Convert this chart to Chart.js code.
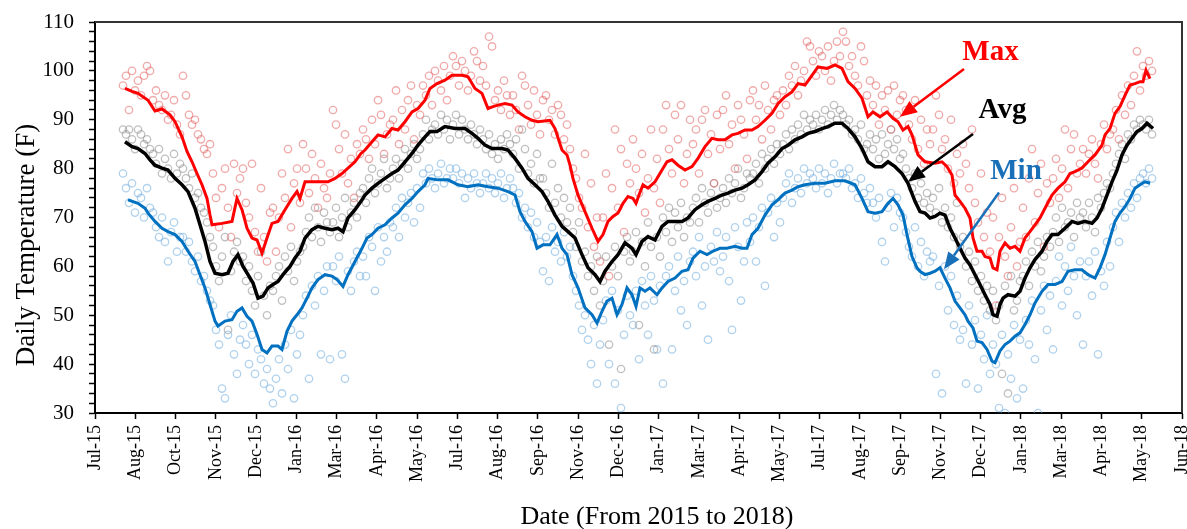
<!DOCTYPE html>
<html>
<head>
<meta charset="utf-8">
<script src="https://cdn.jsdelivr.net/npm/chart.js@4.4.1/dist/chart.umd.min.js"></script>
<style>
  body { margin: 0; background: #fff; }
  #wrap { width: 1187px; height: 529px; }
</style>
</head>
<body>
<div id="wrap"><canvas id="temp-chart" width="1187" height="529"></canvas></div>
<script>
// x values are days counted from the Jul-15 tick
const tickLabels = ['Jul-15', 'Aug-15', 'Oct-15', 'Nov-15', 'Dec-15', 'Jan-16', 'Mar-16', 'Apr-16', 'May-16',
    'Jul-16', 'Aug-16', 'Sep-16', 'Nov-16', 'Dec-16', 'Jan-17', 'Mar-17', 'Apr-17', 'May-17',
    'Jul-17', 'Aug-17', 'Sep-17', 'Nov-17', 'Dec-17', 'Jan-18', 'Mar-18', 'Apr-18', 'May-18', 'Jun-18'];
const axisDays = 1087;

// daily readings (one every 3 days, starting at day 28)
const firstDay = 28;
const dayStep = 3;

const maxDaily = [
    97, 99, 92, 100, 96, 98, 95, 99, 101, 100,
    94, 96, 93, 92, 95, 90, 91, 94, 89, 87,
    99, 95, 91, 89, 90, 87, 86, 84, 83, 85,
    79, 74, 68, 76, 80, 72, 66, 81, 75, 78,
    80, 73, 70, 81, 67, 63, 76, 66, 61, 71,
    72, 63, 70, 79, 74, 84, 68, 77, 80, 73,
    85, 80, 75, 83, 78, 72, 81, 76, 74, 79,
    92, 89, 84, 79, 87, 77, 82, 74, 85, 83,
    88, 86, 82, 90, 85, 94, 91, 83, 87, 89,
    90, 96, 85, 92, 88, 94, 97, 86, 93, 91,
    97, 95, 99, 93, 100, 98, 96, 101, 94, 99,
    103, 101, 97, 102, 100, 96, 99, 104, 102, 98,
    101, 97, 107, 105, 94, 96, 92, 98, 95, 91,
    95, 92, 88, 99, 97, 93, 89, 96, 91, 87,
    94, 95, 90, 92, 87, 93, 91, 86, 89, 84,
    80, 78, 74, 72, 83, 68, 77, 64, 70, 61,
    70, 79, 58, 76, 88, 72, 84, 67, 81, 77,
    86, 80, 75, 83, 71, 78, 88, 76, 82, 73,
    88, 93, 84, 79, 91, 86, 93, 77, 83, 90,
    85, 88, 79, 90, 92, 83, 87, 77, 91, 84,
    92, 95, 85, 89, 80, 93, 90, 87, 82, 94,
    96, 90, 93, 86, 97, 92, 88, 94, 95, 91,
    96, 93, 99, 97, 101, 95, 98, 100, 106, 105,
    102, 99, 104, 103, 100, 105, 98, 102, 106, 103,
    108, 106, 101, 103, 99, 97, 105, 102, 95, 98,
    93, 97, 89, 95, 92, 96, 88, 97, 91, 94,
    95, 92, 89, 86, 94, 84, 90, 81, 88, 85,
    88, 95, 91, 84, 86, 80, 90, 77, 83, 79,
    85, 81, 76, 88, 73, 69, 79, 66, 71, 63,
    70, 52, 66, 74, 62, 58, 68, 76, 60, 65,
    72, 66, 78, 84, 69, 75, 81, 64, 77, 73,
    78, 82, 74, 80, 88, 76, 84, 87, 79, 81,
    84, 79, 83, 86, 81, 78, 85, 89, 84, 87,
    88, 92, 86, 95, 91, 97, 93, 99, 104, 96,
    101, 99, 102, 100
];

const avgDaily = [
    88, 87, 88, 86, 84, 88, 87, 85, 86, 84,
    83, 81, 84, 79, 82, 80, 78, 83, 79, 81,
    80, 78, 76, 79, 74, 75, 72, 71, 69, 66,
    64, 60, 57, 62, 66, 47, 59, 63, 65, 61,
    62, 57, 60, 55, 52, 58, 63, 54, 50, 56,
    55, 58, 60, 53, 62, 59, 64, 57, 61, 63,
    64, 67, 70, 66, 72, 68, 65, 71, 69, 67,
    69, 72, 66, 70, 74, 68, 71, 73, 70, 75,
    76, 73, 78, 80, 75, 77, 79, 82, 76, 78,
    80, 82, 78, 81, 84, 80, 83, 85, 82, 84,
    87, 90, 86, 88, 89, 87, 91, 88, 90, 86,
    89, 91, 87, 90, 88, 86, 89, 87, 85, 88,
    86, 84, 87, 83, 85, 82, 86, 84, 87, 85,
    83, 86, 80, 88, 84, 79, 81, 77, 83, 78,
    78, 75, 72, 81, 73, 76, 70, 74, 69, 72,
    67, 64, 69, 61, 63, 58, 60, 55, 62, 52,
    57, 62, 44, 60, 64, 58, 39, 63, 66, 61,
    63, 67, 48, 65, 60, 69, 64, 43, 66, 62,
    70, 67, 72, 65, 71, 68, 73, 66, 70, 69,
    72, 74, 69, 76, 73, 71, 75, 77, 72, 74,
    76, 73, 78, 75, 77, 80, 74, 76, 79, 78,
    79, 81, 77, 83, 80, 82, 84, 81, 85, 83,
    85, 87, 84, 88, 86, 89, 87, 91, 88, 90,
    89, 91, 88, 90, 92, 89, 91, 93, 90, 92,
    91, 89, 90, 87, 88, 86, 89, 84, 85, 87,
    84, 86, 82, 87, 83, 85, 88, 84, 86, 82,
    83, 80, 78, 76, 79, 74, 77, 73, 75, 72,
    74, 71, 76, 69, 72, 68, 70, 66, 73, 64,
    66, 60, 63, 57, 61, 55, 58, 53, 56, 51,
    55, 49, 52, 38, 56, 34, 58, 51, 53, 57,
    58, 61, 56, 63, 60, 65, 59, 62, 66, 64,
    67, 70, 65, 72, 68, 69, 71, 66, 73, 70,
    71, 68, 73, 70, 67, 74, 72, 75, 77, 76,
    79, 81, 83, 85, 82, 87, 86, 89, 88, 90,
    89, 88, 90, 87
];

const minDaily = [
    79, 76, 73, 77, 71, 75, 74, 70, 76, 72,
    71, 68, 66, 70, 65, 61, 67, 69, 63, 66,
    66, 63, 65, 61, 59, 62, 57, 58, 55, 53,
    52, 47, 44, 35, 33, 46, 50, 42, 38, 45,
    48, 44, 40, 46, 38, 43, 41, 36, 39, 35,
    32, 37, 41, 34, 44, 39, 47, 33, 42, 46,
    50, 54, 37, 56, 52, 58, 42, 55, 60, 41,
    60, 57, 62, 42, 37, 59, 55, 61, 63, 58,
    62, 58, 66, 64, 55, 68, 61, 66, 63, 69,
    68, 72, 66, 74, 70, 73, 75, 69, 76, 72,
    79, 77, 80, 78, 76, 79, 81, 77, 78, 80,
    78, 80, 77, 79, 74, 78, 76, 79, 77, 75,
    77, 79, 76, 78, 75, 77, 79, 74, 76, 78,
    76, 73, 75, 70, 72, 68, 71, 66, 69, 65,
    59, 66, 57, 68, 63, 65, 61, 67, 62, 64,
    58, 55, 52, 47, 50, 45, 40, 48, 36, 44,
    49, 53, 40, 55, 36, 51, 31, 46, 54, 50,
    48, 55, 41, 57, 52, 46, 58, 53, 43, 56,
    36, 58, 60, 43, 55, 62, 51, 57, 48, 61,
    63, 58, 66, 52, 60, 45, 64, 61, 67, 59,
    62, 66, 57, 47, 68, 64, 53, 61, 69, 65,
    70, 61, 68, 72, 56, 71, 74, 66, 73, 69,
    74, 77, 79, 73, 76, 78, 75, 80, 77, 79,
    78, 76, 80, 77, 79, 75, 78, 81, 77, 79,
    79, 78, 80, 76, 77, 74, 78, 75, 73, 76,
    73, 70, 74, 65, 61, 72, 75, 68, 74, 71,
    70, 67, 64, 62, 68, 60, 65, 58, 63, 61,
    62, 38, 56, 34, 60, 51, 58, 48, 54, 45,
    47, 36, 52, 44, 49, 35, 46, 41, 50, 38,
    44, 40, 31, 46, 30, 42, 37, 48, 33, 45,
    35, 49, 44, 53, 41, 30, 51, 56, 47, 54,
    43, 57, 62, 52, 60, 55, 64, 58, 50, 61,
    44, 58, 61, 54, 63, 42, 59, 56, 65, 60,
    68, 71, 65, 73, 70, 75, 72, 77, 74, 78,
    79, 77, 80, 78
];

// running trend lines [day, value]
const maxTrend = [
    [30, 96.4], [37, 95.8], [43, 95.4], [53, 94.0], [60, 91.8], [67, 92.2], [75, 91.0], [80, 89.6],
    [87, 86.5], [92, 83.5], [97, 81.4], [102, 79.0], [107, 76.7], [112, 73.9], [115, 70.5], [117, 68.5],
    [127, 68.8], [137, 69.2], [142, 73.9], [147, 71.6], [152, 67.8], [157, 65.8], [162, 65.4], [167, 62.7],
    [172, 65.8], [177, 68.8], [183, 69.2], [190, 71.6], [197, 73.9], [202, 75.3], [205, 73.9], [210, 77.3],
    [220, 77.3], [233, 77.3], [240, 78.0], [247, 79.0], [253, 80.1], [260, 81.4], [266, 83.1], [270, 83.8],
    [277, 85.5], [283, 86.9], [290, 86.5], [297, 88.2], [303, 87.9], [310, 89.6], [317, 91.6], [323, 92.3],
    [330, 94.0], [335, 96.4], [342, 97.4], [350, 98.1], [357, 99.1], [367, 99.1], [373, 98.8], [380, 96.4],
    [387, 95.4], [393, 92.3], [398, 92.7], [403, 93.0], [410, 93.3], [417, 93.0], [423, 91.6], [430, 90.6],
    [437, 89.9], [443, 89.6], [455, 89.9], [460, 88.2], [467, 83.8], [472, 82.8], [475, 80.7], [478, 78.0],
    [483, 74.6], [490, 71.2], [497, 67.8], [503, 65.1], [508, 66.5], [513, 69.2], [518, 70.2], [523, 70.9],
    [528, 72.9], [533, 74.3], [538, 73.9], [541, 72.9], [544, 74.6], [548, 76.7], [553, 76.0], [560, 77.3],
    [567, 79.7], [572, 81.4], [577, 81.8], [583, 80.7], [590, 79.7], [597, 80.4], [603, 82.1], [610, 84.5],
    [617, 86.2], [623, 85.9], [630, 85.9], [637, 86.9], [643, 87.2], [650, 87.9], [657, 87.9], [663, 88.6],
    [670, 89.9], [677, 91.3], [683, 93.3], [690, 94.7], [697, 95.7], [703, 97.4], [710, 97.1], [717, 99.1],
    [723, 100.8], [732, 100.5], [740, 101.2], [747, 100.5], [753, 97.8], [760, 96.4], [767, 94.4], [773, 90.6],
    [778, 91.6], [785, 90.6], [792, 91.6], [798, 90.3], [803, 89.6], [808, 87.9], [813, 88.6], [817, 86.9],
    [823, 82.8], [830, 81.4], [840, 81.1], [847, 81.4], [852, 80.4], [857, 78.7], [860, 74.6], [865, 73.3],
    [870, 71.9], [875, 69.9], [878, 65.8], [882, 63.1], [887, 63.1], [890, 62.0], [895, 61.7], [898, 59.7],
    [902, 59.3], [905, 63.1], [910, 64.8], [915, 63.7], [920, 64.1], [925, 63.1], [930, 65.8], [935, 67.1],
    [940, 68.5], [945, 69.9], [950, 71.9], [957, 74.6], [963, 76.0], [970, 77.3], [975, 79.0], [980, 79.4],
    [987, 80.1], [993, 81.4], [1000, 82.8], [1007, 84.8], [1010, 86.9], [1015, 88.2], [1020, 91.3], [1025, 92.7],
    [1030, 95.0], [1035, 97.1], [1040, 97.4], [1045, 97.8], [1048, 97.8], [1051, 100.1], [1055, 98.4]
];

const avgTrend = [
    [30, 85.5], [37, 84.5], [43, 84.1], [50, 83.1], [55, 81.8], [60, 80.7], [67, 80.1], [73, 79.7],
    [80, 78.0], [87, 76.7], [93, 75.3], [100, 71.9], [105, 68.5], [110, 65.1], [115, 61.0], [120, 58.6],
    [127, 58.3], [133, 58.6], [138, 61.0], [143, 62.4], [148, 60.0], [153, 58.3], [158, 56.6], [163, 53.5],
    [168, 53.9], [173, 55.6], [178, 56.3], [183, 56.9], [188, 58.3], [195, 60.0], [200, 61.7], [205, 63.1],
    [210, 65.8], [217, 67.5], [223, 68.2], [230, 67.8], [237, 67.5], [243, 67.8], [248, 67.1], [253, 69.9],
    [260, 71.6], [266, 73.3], [270, 74.6], [277, 76.0], [283, 77.0], [290, 78.0], [297, 79.0], [303, 79.7],
    [310, 81.4], [317, 83.1], [323, 84.8], [330, 86.5], [335, 87.6], [342, 87.6], [350, 88.6], [360, 88.2],
    [370, 88.2], [377, 87.2], [383, 86.2], [390, 84.8], [397, 84.1], [407, 84.1], [413, 83.8], [420, 82.1],
    [427, 80.1], [433, 78.0], [440, 76.7], [447, 75.3], [453, 73.3], [460, 70.5], [467, 68.2], [473, 67.1],
    [480, 65.8], [487, 62.4], [493, 59.7], [500, 58.3], [505, 56.9], [510, 59.0], [517, 61.0], [523, 62.4],
    [530, 64.8], [537, 63.7], [541, 62.4], [547, 65.1], [553, 66.1], [560, 65.4], [567, 68.2], [573, 69.2],
    [580, 69.2], [587, 69.2], [593, 69.9], [600, 71.6], [607, 72.6], [613, 73.3], [620, 73.9], [627, 74.6],
    [633, 75.0], [640, 75.6], [647, 76.0], [653, 76.7], [660, 77.7], [667, 79.4], [673, 81.1], [680, 82.4],
    [687, 84.1], [693, 84.8], [700, 85.9], [707, 86.5], [713, 87.2], [720, 87.6], [727, 88.2], [733, 88.6],
    [740, 89.3], [747, 89.3], [753, 88.2], [760, 86.5], [767, 84.1], [773, 81.4], [780, 80.4], [787, 80.4],
    [793, 81.4], [800, 80.4], [807, 79.0], [813, 77.0], [820, 73.3], [825, 71.2], [830, 70.9], [835, 69.9],
    [840, 70.2], [845, 70.9], [850, 70.5], [855, 67.8], [860, 65.8], [865, 63.7], [870, 61.7], [875, 60.3],
    [880, 58.3], [885, 56.3], [890, 54.2], [895, 52.2], [898, 50.1], [902, 49.8], [905, 52.2], [908, 53.5],
    [913, 54.2], [920, 53.9], [925, 54.9], [930, 57.6], [935, 59.7], [940, 61.4], [947, 63.1], [952, 65.1],
    [957, 66.5], [963, 66.5], [970, 67.8], [977, 69.2], [983, 68.8], [990, 69.2], [997, 68.8], [1002, 69.9],
    [1007, 71.9], [1012, 74.6], [1017, 77.3], [1022, 79.7], [1027, 82.8], [1032, 84.8], [1037, 86.2], [1042, 87.6],
    [1047, 88.2], [1052, 89.3], [1058, 88.2]
];

const minTrend = [
    [33, 73.6], [43, 72.9], [50, 71.9], [53, 70.9], [60, 69.2], [67, 67.8], [73, 67.1], [80, 66.5],
    [87, 65.1], [93, 63.1], [100, 61.0], [105, 58.3], [110, 55.6], [115, 52.2], [120, 48.8], [123, 47.8],
    [130, 48.8], [137, 49.1], [142, 50.8], [147, 51.5], [152, 49.8], [157, 48.8], [162, 46.1], [167, 43.0],
    [172, 42.3], [177, 43.7], [183, 43.7], [187, 43.0], [192, 46.7], [197, 48.8], [202, 50.1], [207, 51.5],
    [212, 53.5], [217, 55.6], [223, 57.3], [230, 58.3], [237, 58.0], [242, 57.3], [248, 55.9], [253, 58.3],
    [260, 61.0], [267, 63.7], [272, 65.8], [277, 66.5], [283, 67.8], [290, 68.5], [297, 69.9], [303, 70.9],
    [310, 72.6], [317, 73.9], [323, 75.3], [330, 76.7], [333, 78.0], [343, 77.7], [353, 77.7], [363, 76.7],
    [373, 76.3], [383, 76.7], [393, 76.3], [403, 76.0], [413, 75.3], [420, 74.6], [425, 71.2], [430, 69.2],
    [437, 67.1], [442, 63.7], [448, 64.4], [455, 64.4], [462, 66.5], [467, 63.7], [472, 62.4], [477, 58.3],
    [483, 55.6], [490, 51.5], [497, 50.1], [502, 48.4], [507, 50.8], [512, 52.9], [517, 53.5], [522, 50.1],
    [527, 52.2], [532, 55.6], [537, 54.2], [541, 51.8], [545, 55.6], [550, 54.9], [555, 55.6], [562, 54.2],
    [567, 55.6], [573, 56.9], [580, 57.6], [587, 59.0], [593, 59.3], [598, 61.7], [605, 63.1], [612, 62.4],
    [618, 63.1], [625, 63.7], [632, 63.7], [640, 64.1], [647, 63.7], [652, 63.7], [657, 66.5], [663, 67.8],
    [670, 70.5], [677, 72.6], [683, 73.6], [690, 75.0], [697, 75.6], [703, 76.3], [710, 76.7], [720, 77.0],
    [730, 77.0], [740, 77.5], [750, 77.5], [760, 76.7], [767, 73.9], [773, 71.2], [780, 70.9], [787, 71.2],
    [793, 72.9], [798, 73.9], [803, 72.6], [808, 70.5], [812, 66.5], [817, 62.0], [822, 59.7], [825, 59.0],
    [830, 58.3], [835, 58.6], [840, 59.0], [845, 59.7], [850, 57.6], [855, 55.6], [860, 52.9], [865, 51.5],
    [870, 50.1], [873, 48.8], [878, 47.4], [882, 44.7], [887, 44.4], [892, 43.0], [897, 40.6], [900, 40.3],
    [905, 42.7], [910, 44.0], [915, 44.7], [920, 45.7], [925, 46.4], [930, 48.1], [935, 50.1], [940, 52.5],
    [947, 54.9], [953, 56.3], [960, 56.3], [967, 56.9], [973, 59.0], [980, 59.3], [987, 59.3], [993, 58.3],
    [1000, 57.6], [1005, 59.7], [1010, 62.4], [1015, 65.8], [1020, 69.2], [1025, 70.9], [1030, 72.2], [1035, 73.9],
    [1040, 76.0], [1045, 76.7], [1050, 77.3], [1055, 77.0]
];

// callouts: label anchor and arrow, in data units
const callouts = [
    { text: 'Max', color: '#ff0000', label: [895.5, 102.2], from: [869, 100.4], to: [805, 90.6] },
    { text: 'Avg', color: '#000000', label: [907.5, 90.4], from: [878, 87.1], to: [813, 77.3] },
    { text: 'Min', color: '#1a70b8', label: [921, 77.8], from: [904, 75.1], to: [849, 59.4] }
];

const serif = '"Liberation Serif", "Times New Roman", serif';

const toPoints = (vals) => vals.map((v, i) => ({ x: firstDay + i * dayStep, y: v }));
const toLine = (pairs) => pairs.map(([x, y]) => ({ x, y }));

// frame, axis titles and callouts
const extrasPlugin = {
    id: 'extras',
    afterDraw(chart) {
        const { ctx, chartArea: area, scales: { x, y } } = chart;
        ctx.save();

        ctx.strokeStyle = '#333';
        ctx.lineWidth = 2;
        ctx.beginPath();
        ctx.moveTo(area.left, area.top);
        ctx.lineTo(area.right, area.top);
        ctx.lineTo(area.right, area.bottom);
        ctx.stroke();

        ctx.fillStyle = '#000';
        ctx.font = '26px ' + serif;
        ctx.textAlign = 'center';
        ctx.textBaseline = 'alphabetic';
        ctx.fillText('Date (From 2015 to 2018)', 657, 524);

        ctx.save();
        ctx.translate(34, 245);
        ctx.rotate(-Math.PI / 2);
        ctx.font = '27px ' + serif;
        ctx.fillText('Daily Temperature (F)', 0, 0);
        ctx.restore();

        callouts.forEach(c => {
            const x1 = x.getPixelForValue(c.from[0]), y1 = y.getPixelForValue(c.from[1]);
            const x2 = x.getPixelForValue(c.to[0]), y2 = y.getPixelForValue(c.to[1]);
            const ang = Math.atan2(y2 - y1, x2 - x1);
            const head = 17, half = 7;
            const bx = x2 - head * Math.cos(ang), by = y2 - head * Math.sin(ang);
            ctx.strokeStyle = c.color;
            ctx.fillStyle = c.color;
            ctx.lineWidth = 2.5;
            ctx.beginPath();
            ctx.moveTo(x1, y1);
            ctx.lineTo(bx, by);
            ctx.stroke();
            ctx.beginPath();
            ctx.moveTo(x2, y2);
            ctx.lineTo(bx + half * Math.sin(ang), by - half * Math.cos(ang));
            ctx.lineTo(bx - half * Math.sin(ang), by + half * Math.cos(ang));
            ctx.closePath();
            ctx.fill();

            ctx.font = 'bold 29px ' + serif;
            ctx.textAlign = 'center';
            ctx.textBaseline = 'alphabetic';
            ctx.fillText(c.text, x.getPixelForValue(c.label[0]), y.getPixelForValue(c.label[1]));
        });

        ctx.restore();
    }
};

const dotStyle = (color) => ({
    type: 'scatter',
    borderColor: color,
    backgroundColor: 'rgba(255,255,255,0)',
    pointRadius: 3.7,
    pointBorderWidth: 1.3,
    pointHoverRadius: 3.7,
    order: 2
});

const lineStyle = (color, width) => ({
    type: 'line',
    borderColor: color,
    borderWidth: width,
    pointRadius: 0,
    tension: 0,
    fill: false,
    order: 1
});

const ctx = document.getElementById('temp-chart').getContext('2d');
new Chart(ctx, {
    type: 'scatter',
    data: {
        datasets: [
            { ...lineStyle('#ff0000', 3), label: 'Max trend', data: toLine(maxTrend) },
            { ...lineStyle('#000000', 3.5), label: 'Avg trend', data: toLine(avgTrend) },
            { ...lineStyle('#0070c0', 3), label: 'Min trend', data: toLine(minTrend) },
            { ...dotStyle('rgba(225, 85, 85, 0.5)'), label: 'Max', data: toPoints(maxDaily) },
            { ...dotStyle('rgba(140, 140, 140, 0.55)'), label: 'Avg', data: toPoints(avgDaily) },
            { ...dotStyle('rgba(100, 165, 220, 0.5)'), label: 'Min', data: toPoints(minDaily) }
        ]
    },
    options: {
        responsive: false,
        animation: false,
        devicePixelRatio: 1,
        layout: { padding: { top: 22, right: 5, left: 0, bottom: 0 } },
        plugins: {
            legend: { display: false },
            tooltip: { enabled: false }
        },
        scales: {
            x: {
                type: 'linear',
                min: 0,
                max: axisDays,
                afterBuildTicks: (scale) => {
                    scale.ticks = tickLabels.map((_, i) => ({ value: i * axisDays / (tickLabels.length - 1) }));
                },
                afterFit: (scale) => {
                    scale.height = 116;
                    scale.paddingLeft = 0;
                    scale.paddingRight = 0;
                },
                ticks: {
                    autoSkip: false,
                    minRotation: 90,
                    maxRotation: 90,
                    padding: 6,
                    color: '#000',
                    font: { family: serif, size: 18 },
                    callback: (value, index) => tickLabels[index]
                },
                grid: { drawOnChartArea: false, drawTicks: true, tickLength: 6, tickColor: '#000', tickWidth: 1.5 },
                border: { display: true, color: '#000', width: 2 }
            },
            y: {
                min: 30,
                max: 110,
                afterFit: (scale) => {
                    scale.width = 95;
                    scale.paddingTop = 0;
                    scale.paddingBottom = 0;
                },
                ticks: {
                    stepSize: 2,
                    autoSkip: false,
                    padding: 15,
                    color: '#000',
                    font: { family: serif, size: 21 },
                    callback: (value) => (value % 10 === 0 ? String(value) : '')
                },
                grid: { drawOnChartArea: false, drawTicks: true, tickLength: 6, tickColor: '#000', tickWidth: 1.5 },
                border: { display: true, color: '#000', width: 2 }
            }
        }
    },
    plugins: [extrasPlugin]
});
</script>
</body>
</html>
